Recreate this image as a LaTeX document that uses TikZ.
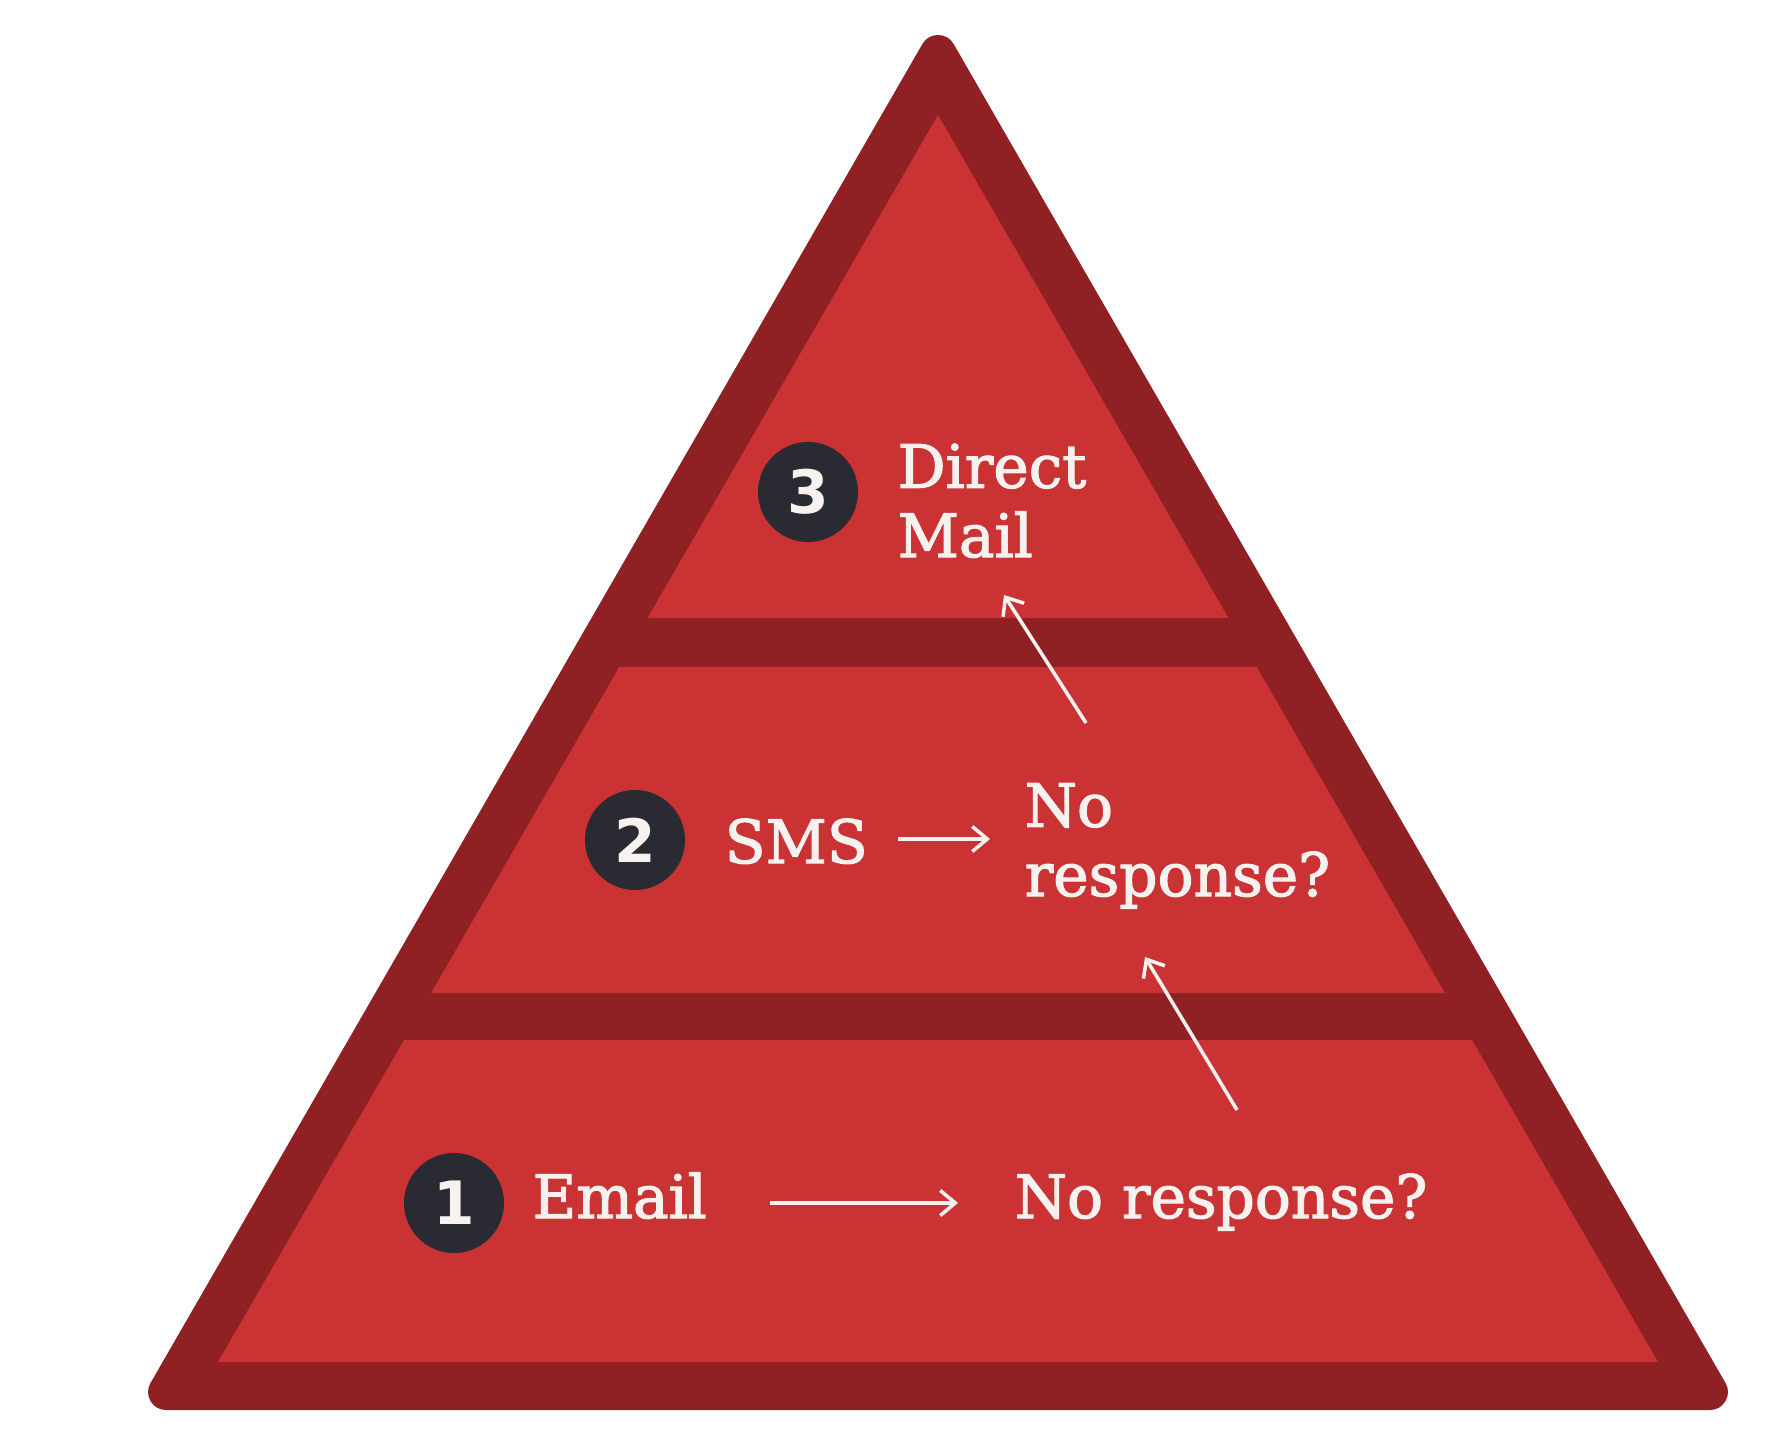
\documentclass[tikz,border=0pt]{standalone}
\usepackage{fontspec}
\setmainfont{DejaVu Serif}[FakeBold=2]
\newfontfamily\numfont{DejaVu Sans}
\usetikzlibrary{arrows.meta}
\definecolor{pyrdark}{HTML}{8F2023}
\definecolor{pyrlight}{HTML}{CB3233}
\definecolor{badgecol}{HTML}{2A2A33}
\definecolor{txtcol}{HTML}{F7F2F0}
\begin{document}
\begin{tikzpicture}[x=0.01cm,y=-0.01cm,
  badge/.style={circle,fill=badgecol,minimum size=1cm,inner sep=0pt,text=txtcol,
    font=\numfont\bfseries\fontsize{17}{17}\selectfont},
  lbl/.style={text=txtcol,inner sep=0pt,anchor=base west,
    font=\fontsize{17}{19.7}\selectfont},
  arr/.style={draw=txtcol,line width=1pt,-{Straight Barb[length=0.15cm,width=0.25cm]}}]
\useasboundingbox (0,0) rectangle (1783,1440);
\fill[white] (0,0) rectangle (1783,1440);
% outer frame
\filldraw[pyrdark,line width=0.36cm,line join=round] (938,53) -- (1709.9,1392) -- (166.1,1392) -- cycle;
% inner tiers
\fill[pyrlight] (938,115) -- (1228.4,618) -- (647.6,618) -- cycle;
\fill[pyrlight] (619.3,667) -- (1256.7,667) -- (1444.9,993) -- (431.1,993) -- cycle;
\fill[pyrlight] (404,1040) -- (1472,1040) -- (1658,1362) -- (218,1362) -- cycle;
% badges
\node[badge] (b3) at (808,492) {3};
\node[badge] (b2) at (635,840) {2};
\node[badge] (b1) at (454,1203) {1};
% labels
\node[lbl,align=left] (dm) at (897,557) {Direct\\Mail};
\node[lbl] (sms) at (724,863) {SMS};
\node[lbl,align=left] (nr2) at (1024,896) {No\\response?};
\node[lbl] (email) at (532,1218) {Email};
\node[lbl] (nr1) at (1014,1218) {No response?};
% arrow ends
\coordinate (a1s) at (770,1203);
\coordinate (a1e) at (958,1203);
\coordinate (a2s) at (898,839);
\coordinate (a2e) at (990,839);
\coordinate (a3s) at (1237,1110);
\coordinate (a3e) at (1145,957);
\coordinate (a4s) at (1086,723);
\coordinate (a4e) at (1004,595);
\draw[arr] (a1s) -- (a1e);
\draw[arr] (a2s) -- (a2e);
\draw[arr] (a3s) -- (a3e);
\draw[arr] (a4s) -- (a4e);
\end{tikzpicture}
\end{document}
